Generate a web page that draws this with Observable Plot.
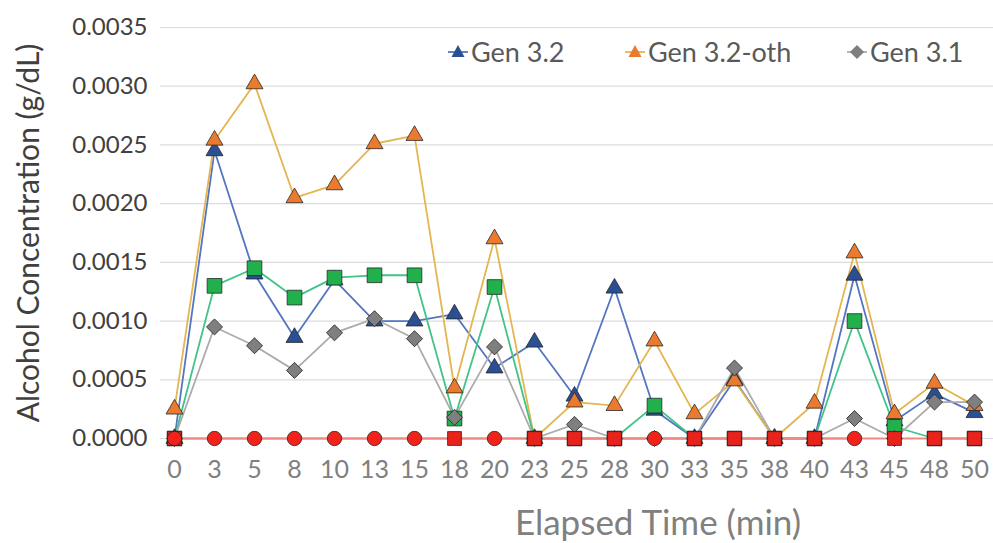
<!DOCTYPE html>
<html>
<head>
<meta charset="utf-8">
<script src="https://cdn.jsdelivr.net/npm/d3@7"></script>
<script src="https://cdn.jsdelivr.net/npm/@observablehq/plot@0.6"></script>
<style>
  html, body { margin: 0; padding: 0; background: #fff; }
  #wrap { position: relative; width: 993px; height: 543px; overflow: hidden; font-family: Lato, "Open Sans", sans-serif; }
  .item { position: absolute; top: 35px; display: flex; align-items: center; font-size: 27px; color: #595959; white-space: nowrap; }
  .item svg { margin-right: 3px; }
</style>
</head>
<body>
<div id="wrap"></div>
<script>
const times = [0,3,5,8,10,13,15,18,20,23,25,28,30,33,35,38,40,43,45,48,50];
const gen32 = [0,0.00245,0.0014,0.00086,0.00135,0.001,0.001,0.00106,0.0006,0.00082,0.00036,0.00128,0.00024,0,0.0005,0,0,0.00139,0.00015,0.00038,0.00022];
const gen32oth = [0.00025,0.00254,0.00302,0.00205,0.00216,0.00251,0.00258,0.00043,0.0017,0,0.00031,0.00028,0.00083,0.00021,0.00049,0,0.0003,0.00158,0.00021,0.00047,0.00028];
const gen31 = [0,0.00095,0.00079,0.00058,0.0009,0.00102,0.00085,0.00018,0.00078,0,0.00012,0,0,0,0.0006,0,0,0.00017,0,0.00031,0.00031];
const greenSeries = [0,0.0013,0.00145,0.0012,0.00137,0.00139,0.00139,0.00017,0.00129,0,0,0,0.00028,0,0,0,0,0.001,0.0001,0,0];
const redSquares = [0,null,null,null,null,null,null,0,null,0,0,0,null,0,0,0,0,null,0,0,0];
const redCircles = [0,0,0,0,0,0,0,null,0,null,null,null,0,null,null,null,null,0,null,null,null];
const yTicks = [0,0.0005,0.001,0.0015,0.002,0.0025,0.003,0.0035];

const series = [
  {name: "Gen 3.2", values: gen32, symbol: "triangle", fill: "#2b4f93", line: "#5375c2", r: 6.3, rotate: 0, legendX: 448},
  {name: "Gen 3.2-oth", values: gen32oth, symbol: "triangle", fill: "#ea7a2e", line: "#e4b652", r: 6.3, rotate: 0, legendX: 625},
  {name: "Series 4", values: greenSeries, symbol: "square", fill: "#22b04c", line: "#40c488", r: 8.3, rotate: 0, legendX: null},
  {name: "Gen 3.1", values: gen31, symbol: "square", fill: "#7f7f7f", line: "#ababab", r: 6.4, rotate: 45, legendX: 847},
  {name: "Series 5", values: redSquares, symbol: "square", fill: "#e8231b", line: "#f08a80", r: 7.8, rotate: 0, legendX: null},
  {name: "Series 6", values: redCircles, symbol: "circle", fill: "#f0221a", line: "#f08a80", r: 7.2, rotate: 0, legendX: null}
];

const rows = series.map(s => times.map((t, i) => ({t, v: s.values[i], s: s.name})).filter(d => d.v != null));

const marks = [
  Plot.gridY(yTicks, {stroke: "#dcdcdc", strokeOpacity: 1, strokeWidth: 1.2}),
  Plot.axisY({ticks: yTicks, tickFormat: d3.format(".4f"), tickSize: 0, tickPadding: 13, label: null, fontSize: 24, fill: "#404040"}),
  Plot.axisX({tickSize: 0, tickPadding: 22, label: null, fontSize: 25, fill: "#808080"}),
];
series.forEach((s, k) => {
  marks.push(Plot.line(rows[k], {x: "t", y: "v", stroke: s.line, strokeWidth: 1.8}));
});
series.forEach((s, k) => {
  marks.push(Plot.dot(rows[k], {x: "t", y: "v", symbol: () => s.symbol, fill: s.fill, stroke: "#222", strokeWidth: 0.9, strokeOpacity: 0.85, r: s.r, rotate: s.rotate}));
});
marks.push(Plot.text(["Alcohol Concentration (g/dL)"], {frameAnchor: "left", textAnchor: "middle", lineAnchor: "middle", dx: -131, rotate: -90, fontSize: 30, fill: "#404040", text: d => d}));
marks.push(Plot.text(["Elapsed Time (min)"], {frameAnchor: "bottom", textAnchor: "middle", lineAnchor: "middle", dx: 81, dy: 85, fontSize: 35, fill: "#808080", text: d => d}));

const chart = Plot.plot({
  width: 993,
  height: 543,
  marginLeft: 160,
  marginRight: 0,
  marginTop: 27,
  marginBottom: 105,
  style: {fontFamily: "Lato, 'Open Sans', sans-serif", background: "white", overflow: "visible"},
  x: {type: "point", domain: times, insetLeft: 7, insetRight: 12, padding: 0},
  y: {domain: [0, 0.0035]},
  symbol: {type: "identity"},
  marks
});
const wrap = document.getElementById("wrap");
wrap.appendChild(chart);
chart.style.position = "absolute";
chart.style.left = "0";
chart.style.top = "0";

series.filter(s => s.legendX != null).forEach(s => {
  const item = document.createElement("div");
  item.className = "item";
  item.style.left = s.legendX + "px";
  const shape = s.rotate ? `<rect x="5" y="5" width="10" height="10" fill="${s.fill}" transform="rotate(45 10 10)"/>`
                         : `<path d="M10 3 L16.5 15 L3.5 15 Z" fill="${s.fill}"/>`;
  item.innerHTML = `<svg width="20" height="20" viewBox="0 0 20 20"><line x1="0" y1="10" x2="20" y2="10" stroke="${s.line}" stroke-width="1.8"/>${shape}</svg><span>${s.name}</span>`;
  wrap.appendChild(item);
});
</script>
</body>
</html>
